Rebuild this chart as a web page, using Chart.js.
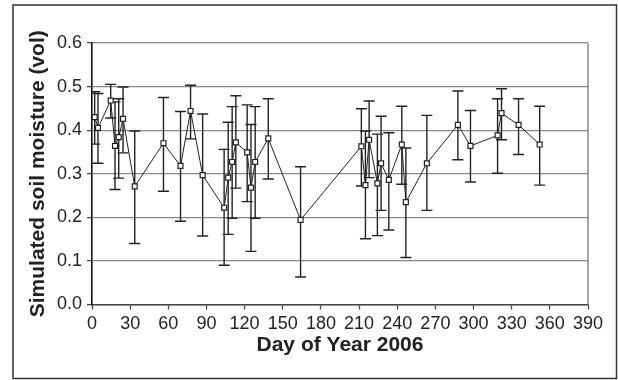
<!DOCTYPE html>
<html>
<head>
<meta charset="utf-8">
<script src="https://cdn.jsdelivr.net/npm/chart.js@4.4.0/dist/chart.umd.min.js"></script>
<style>
  body { margin: 0; background: #fff; }
  #wrap { width: 618px; height: 380px; }
</style>
</head>
<body>
<div id="wrap"><canvas id="grafico" width="618" height="380"></canvas></div>
<script>
// dia del año
const dias = [2.1, 4.7, 14.7, 18.1, 21.0, 24.4, 33.6, 56.2, 69.6, 77.5, 87, 103.9, 107.1, 110.2, 113.1, 122, 125, 128.3, 138.6, 164,
    211.8, 215, 217.9, 224.4, 227.3, 233.4, 243.6, 246.8, 263.3, 287.7, 297.6, 318.9, 322, 335.4, 352];
// humedad simulada
const humedad = [0.43, 0.405, 0.468, 0.364, 0.384, 0.426, 0.271, 0.37, 0.318, 0.444, 0.297, 0.222, 0.291, 0.327, 0.372, 0.349, 0.268, 0.327, 0.381, 0.194,
    0.363, 0.274, 0.378, 0.278, 0.324, 0.286, 0.367, 0.235, 0.324, 0.412, 0.364, 0.388, 0.439, 0.412, 0.367];
// extremos de las barras de error
const errorBajo = [0.368, 0.324, 0.428, 0.264, 0.29, 0.348, 0.14, 0.26, 0.191, 0.38, 0.157, 0.09, 0.161, 0.198, 0.267, 0.236, 0.122, 0.198, 0.288, 0.063,
    0.272, 0.151, 0.291, 0.158, 0.216, 0.171, 0.276, 0.108, 0.216, 0.332, 0.281, 0.301, 0.378, 0.344, 0.274];
const errorAlto = [0.488, 0.484, 0.505, 0.465, 0.472, 0.499, 0.398, 0.475, 0.443, 0.503, 0.437, 0.356, 0.418, 0.454, 0.479, 0.458, 0.413, 0.454, 0.472, 0.316,
    0.449, 0.398, 0.467, 0.391, 0.432, 0.394, 0.455, 0.359, 0.434, 0.49, 0.445, 0.472, 0.495, 0.472, 0.455];

const ticksY = [0, 0.1, 0.2, 0.3, 0.4, 0.5, 0.6];
const ticksX = [0, 30, 60, 90, 120, 150, 180, 210, 240, 270, 300, 330, 360, 390];

const fuente = "'Liberation Sans', Arial, Helvetica, sans-serif";

const puntos = dias.map((d, i) => ({ x: d, y: humedad[i] }));
const barras = dias.flatMap((d, i) => [{ x: d, y: errorBajo[i] }, { x: d, y: errorAlto[i] }, { x: d, y: null }]);
const topes = dias.flatMap((d, i) => [{ x: d, y: errorBajo[i] }, { x: d, y: errorAlto[i] }]);

const marco = {
    id: 'marco',
    afterDraw(chart) {
        const ctx = chart.ctx;
        const a = chart.chartArea;
        ctx.save();
        // lado derecho del area
        ctx.strokeStyle = '#777';
        ctx.lineWidth = 1.3;
        ctx.beginPath();
        ctx.moveTo(a.right, a.top);
        ctx.lineTo(a.right, a.bottom);
        ctx.stroke();
        // marco exterior
        ctx.strokeStyle = '#333';
        ctx.lineWidth = 1.5;
        ctx.strokeRect(13, 5, 603.5, 373.5);
        ctx.restore();
    }
};

new Chart(document.getElementById('grafico'), {
    type: 'scatter',
    data: {
        datasets: [
            {
                label: 'Humedad',
                data: puntos,
                showLine: true,
                borderColor: '#222',
                borderWidth: 1,
                backgroundColor: '#fff',
                pointStyle: 'rect',
                pointRadius: 3.5,
                pointBorderWidth: 1.2,
                pointBorderColor: '#222',
                pointBackgroundColor: '#fff',
                order: 0
            },
            {
                label: 'Error',
                data: barras,
                showLine: true,
                spanGaps: false,
                borderColor: '#222',
                borderWidth: 1.4,
                pointRadius: 0,
                order: 2
            },
            {
                label: 'Topes',
                data: topes,
                showLine: false,
                pointStyle: 'line',
                pointRadius: 5.5,
                pointBorderWidth: 1.4,
                borderColor: '#222',
                pointBorderColor: '#222',
                order: 1
            }
        ]
    },
    options: {
        responsive: false,
        animation: false,
        events: [],
        layout: { padding: { top: 43, right: 30, left: 0, bottom: 0 } },
        plugins: { legend: { display: false }, tooltip: { enabled: false } },
        scales: {
            x: {
                type: 'linear',
                min: 0,
                max: 390,
                afterBuildTicks: (s) => { s.ticks = ticksX.map(v => ({ value: v })); },
                afterFit: (s) => { s.height = 75.5; },
                ticks: { color: '#222', font: { family: fuente, size: 18 }, padding: 4, maxRotation: 0, autoSkip: false },
                grid: { drawOnChartArea: false, drawTicks: true, tickLength: 5, tickColor: '#444', tickWidth: 1.3 },
                border: { color: '#444', width: 1.5 },
                title: { display: true, text: 'Day of Year 2006', color: '#222', font: { family: fuente, size: 21, weight: 'bold' }, padding: { top: 0, bottom: 22 } }
            },
            y: {
                type: 'linear',
                min: 0,
                max: 0.6,
                afterBuildTicks: (s) => { s.ticks = ticksY.map(v => ({ value: v })); },
                afterFit: (s) => { s.width = 92; },
                ticks: { color: '#222', font: { family: fuente, size: 18 }, padding: 5, callback: (v) => v.toFixed(1) },
                grid: { color: '#888', lineWidth: 1.2, tickLength: 5, tickColor: '#444', tickWidth: 1.3 },
                border: { color: '#111', width: 1.6 },
                title: { display: true, text: 'Simulated soil moisture (vol)', color: '#222', font: { family: fuente, size: 21, weight: 'bold' }, padding: { top: 26, bottom: 0 } }
            }
        }
    },
    plugins: [marco]
});
</script>
</body>
</html>
